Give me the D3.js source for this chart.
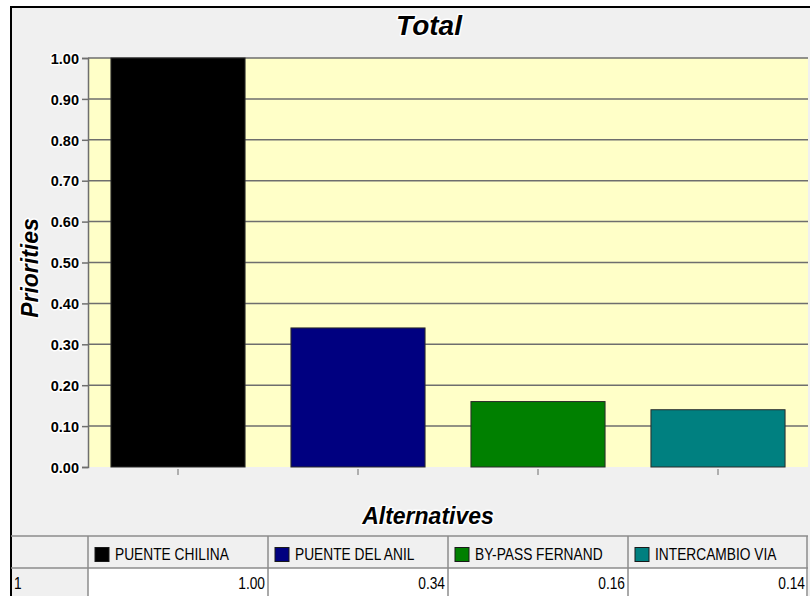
<!DOCTYPE html>
<html>
<head>
<meta charset="utf-8">
<script src="https://cdn.jsdelivr.net/npm/d3@7"></script>
<style>
  html, body { margin: 0; padding: 0; background: #ffffff; }
  svg { display: block; }
  .halo { paint-order: stroke; stroke: #ffffff; stroke-width: 3px; stroke-linejoin: round; }
</style>
</head>
<body>
<svg id="chart" width="810" height="596"></svg>
<script>
// Alternatives and their total priorities
const categories = ["PUENTE CHILINA", "PUENTE DEL ANIL", "BY-PASS FERNAND", "INTERCAMBIO VIA"];
const priorities = [1.00, 0.34, 0.16, 0.14];
const barColors = ["#000000", "#000080", "#008000", "#008080"];
const yTicks = [0, 0.1, 0.2, 0.3, 0.4, 0.5, 0.6, 0.7, 0.8, 0.9, 1.0];
const rowLabel = "1";

const svg = d3.select("#chart");
const font = "Arial, 'Liberation Sans', sans-serif";
const narrow = 0.86; // horizontal squeeze for the table text

// Outer frame
const frame = { left: 11, top: 7, right: 830, bottom: 620 };
svg.append("rect")
  .attr("x", frame.left).attr("y", frame.top)
  .attr("width", frame.right - frame.left).attr("height", frame.bottom - frame.top)
  .attr("fill", "#f0f0f0").attr("stroke", "#000").attr("stroke-width", 2);

// Plot area
const plot = { left: 88, right: 808, top: 58, bottom: 467 };
const x = d3.scaleBand().domain(categories).range([plot.left, plot.right]).paddingInner(0.255).paddingOuter(0.1275);
const xCol = d3.scaleBand().domain(categories).range([plot.left, plot.right]);
const y = d3.scaleLinear().domain([0, 1]).range([plot.bottom, plot.top]);

svg.append("rect")
  .attr("x", plot.left).attr("y", plot.top)
  .attr("width", plot.right - plot.left).attr("height", plot.bottom - plot.top)
  .attr("fill", "#ffffc8");

// Horizontal grid lines
svg.append("g").selectAll("line").data(yTicks.filter(d => d > 0)).join("line")
  .attr("x1", plot.left).attr("x2", plot.right)
  .attr("y1", d => y(d)).attr("y2", d => y(d))
  .attr("stroke", "#6e6e6e").attr("stroke-width", 1.5);

// Bars
svg.append("g").selectAll("rect").data(categories).join("rect")
  .attr("x", d => x(d))
  .attr("y", (d, i) => y(priorities[i]))
  .attr("width", x.bandwidth())
  .attr("height", (d, i) => y(0) - y(priorities[i]))
  .attr("fill", (d, i) => barColors[i])
  .attr("stroke", "#2a2a2a").attr("stroke-width", 1);

// Y axis
const yAxis = d3.axisLeft(y).tickValues(yTicks).tickFormat(d3.format(".2f")).tickSize(6).tickPadding(3);
const gy = svg.append("g").attr("transform", `translate(${plot.left},0)`).call(yAxis);
gy.attr("font-size", null).attr("font-family", null);
gy.select(".domain").attr("stroke", "#6e6e6e").attr("stroke-width", 1.5);
gy.selectAll(".tick line").attr("stroke", "#6e6e6e").attr("stroke-width", 1.5);
gy.selectAll(".tick text")
  .attr("class", "halo")
  .attr("dy", "0.36em")
  .attr("fill", "#000")
  .style("font-family", font).style("font-size", "14.5px").style("font-weight", "bold");

// X axis (tick marks only)
const xAxis = d3.axisBottom(x).tickSize(6).tickFormat("");
const gx = svg.append("g").attr("transform", `translate(0,${plot.bottom + 2})`).call(xAxis);
gx.select(".domain").remove();
gx.selectAll(".tick line").attr("stroke", "#6e6e6e").attr("stroke-width", 1);

// Titles
svg.append("text").attr("class", "halo")
  .attr("x", 429).attr("y", 35).attr("text-anchor", "middle")
  .style("font-family", font).style("font-size", "28px").style("font-weight", "bold").style("font-style", "italic")
  .text("Total");

svg.append("text").attr("class", "halo")
  .attr("transform", `translate(38,268) rotate(-90)`)
  .attr("text-anchor", "middle")
  .style("font-family", font).style("font-size", "23px").style("font-weight", "bold").style("font-style", "italic")
  .text("Priorities");

svg.append("text").attr("class", "halo")
  .attr("x", 428).attr("y", 524).attr("text-anchor", "middle")
  .style("font-family", font).style("font-size", "23px").style("font-weight", "bold").style("font-style", "italic")
  .text("Alternatives");

// Data table
const table = { top: 536, mid: 568, bottom: 600 };
const lineColor = "#8c8c8c";
const tg = svg.append("g");

// Data cells (white)
tg.selectAll("rect.cell").data(categories).join("rect").attr("class", "cell")
  .attr("x", d => xCol(d)).attr("y", table.mid)
  .attr("width", xCol.bandwidth()).attr("height", table.bottom - table.mid)
  .attr("fill", "#ffffff");

// Grid lines of the table
tg.append("line").attr("x1", frame.left).attr("x2", plot.right).attr("y1", table.top).attr("y2", table.top)
  .attr("stroke", lineColor).attr("stroke-width", 1.5);
tg.append("line").attr("x1", frame.left).attr("x2", plot.right).attr("y1", table.mid).attr("y2", table.mid)
  .attr("stroke", lineColor).attr("stroke-width", 1.5);
tg.selectAll("line.col").data(categories).join("line").attr("class", "col")
  .attr("x1", d => xCol(d)).attr("x2", d => xCol(d))
  .attr("y1", table.top).attr("y2", table.bottom)
  .attr("stroke", lineColor).attr("stroke-width", 1.5);
tg.append("line").attr("x1", plot.right - 1).attr("x2", plot.right - 1).attr("y1", table.top).attr("y2", table.bottom)
  .attr("stroke", lineColor).attr("stroke-width", 1.5);

// Legend swatches and names
tg.selectAll("rect.sw").data(categories).join("rect").attr("class", "sw")
  .attr("x", d => xCol(d) + 7).attr("y", 547.5)
  .attr("width", 14).attr("height", 14)
  .attr("fill", (d, i) => barColors[i])
  .attr("stroke", "#1a1a1a").attr("stroke-width", 1);
tg.selectAll("text.name").data(categories).join("text").attr("class", "name")
  .attr("transform", d => `translate(${xCol(d) + 27},559.5) scale(${narrow},1)`)
  .style("font-family", font).style("font-size", "16px").attr("fill", "#000")
  .text(d => d);

// Values
tg.selectAll("text.val").data(categories).join("text").attr("class", "val")
  .attr("transform", d => `translate(${xCol(d) + xCol.bandwidth() - 3},588.5) scale(${narrow},1)`)
  .attr("text-anchor", "end")
  .style("font-family", font).style("font-size", "16px").attr("fill", "#000")
  .text((d, i) => d3.format(".2f")(priorities[i]));

tg.append("text")
  .attr("transform", `translate(14,588.5) scale(${narrow},1)`)
  .style("font-family", font).style("font-size", "16px").attr("fill", "#000")
  .text(rowLabel);
</script>
</body>
</html>
